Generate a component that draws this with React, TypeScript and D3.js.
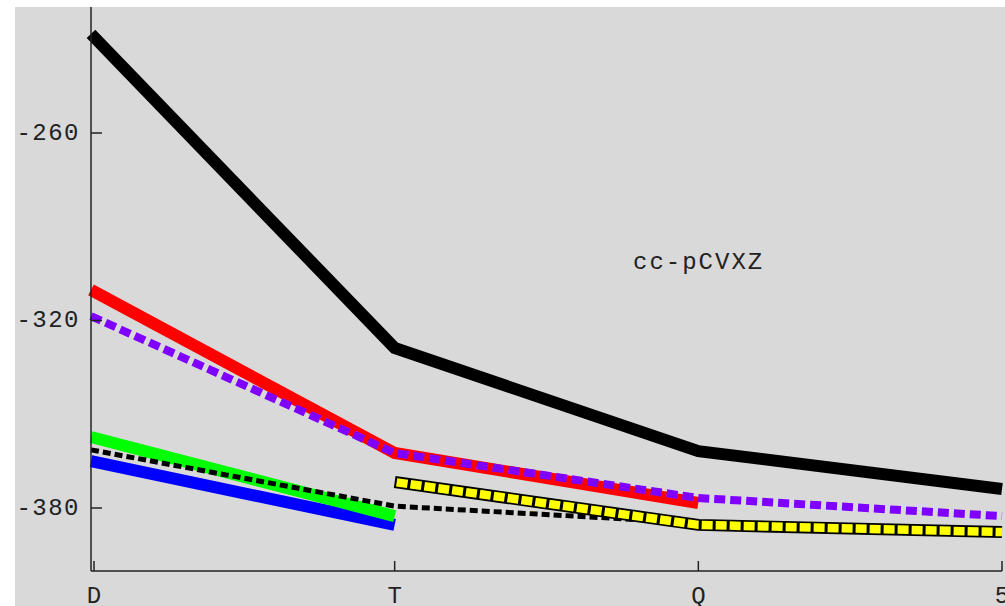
import * as d3 from "d3";

const categories = ["D", "T", "Q", "5"];
const yTicks = [-260, -320, -380];

// values per category, null = no point
const blackThick = [-228.3, -328.8, -361.8, -373.9];
const redLine = [-310.2, -362.4, -378.4, null];
const purpleDash = [-318.6, -362.4, -376.8, -382.6];
const greenLine = [-357.3, -382.6, null, null];
const blueLine = [-365.0, -385.4, null, null];
const blackDash = [-361.4, -379.4, -384.8, null];
const yellowLine = [null, -371.7, -385.4, -387.7];

const label = "cc-pCVXZ";

const W = 1005;
const H = 606;
const FONT = "'Courier New', 'Liberation Mono', monospace";

export default function App() {
  const x = d3
    .scalePoint<string>()
    .domain(categories)
    .range([91, 1002]);
  const y = d3.scaleLinear().domain([-260, -380]).range([133, 508]);

  const line = (vals: (number | null)[]) =>
    d3
      .line<number | null>()
      .defined((d) => d !== null)
      .x((_, i) => x(categories[i]) as number)
      .y((d) => y(d as number))(vals) || "";

  const axisColor = "#222";

  return (
    <svg
      width={W}
      height={H}
      style={{ position: "absolute", left: 0, top: 0, display: "block" }}
    >
      <rect x={0} y={0} width={W} height={H} fill="#fff" />
      <rect x={15} y={7} width={W - 15} height={H - 7} fill="#d9d9d9" />

      {/* series */}
      <g fill="none" strokeLinecap="butt" strokeLinejoin="miter">
        <path d={line(blueLine)} stroke="#0000ff" strokeWidth={12} />
        <path d={line(greenLine)} stroke="#00ff00" strokeWidth={12} />
        <path
          d={line(blackDash)}
          stroke="#000"
          strokeWidth={5}
          strokeDasharray="8,4"
        />
        <path d={line(redLine)} stroke="#ff0000" strokeWidth={12} />
        <path
          d={line(purpleDash)}
          stroke="#7f00ff"
          strokeWidth={8}
          strokeDasharray="11,5"
        />
        <path d={line(yellowLine)} stroke="#000" strokeWidth={12} />
        <path
          d={line(yellowLine)}
          stroke="#ffff00"
          strokeWidth={8.5}
          strokeDasharray="11,3"
          strokeDashoffset={-2}
        />
        <path d={line(blackThick)} stroke="#000" strokeWidth={12} />
      </g>

      {/* y axis */}
      <line x1={91} x2={91} y1={7} y2={571} stroke={axisColor} strokeWidth={1.5} />
      {yTicks.map((t) => (
        <g key={t}>
          <line x1={91} x2={102} y1={y(t)} y2={y(t)} stroke={axisColor} strokeWidth={1.5} />
          <text
            x={80}
            y={y(t)}
            textAnchor="end"
            dominantBaseline="central"
            fontFamily={FONT}
            fontSize={24}
            letterSpacing={1.5}
            fill="#222"
          >
            {String(t)}
          </text>
        </g>
      ))}

      {/* x axis */}
      <line x1={91} x2={1002} y1={571} y2={571} stroke={axisColor} strokeWidth={1.5} />
      {categories.map((c) => (
        <g key={c}>
          <line
            x1={(x(c) as number) + (c === "D" ? 3 : 0)}
            x2={(x(c) as number) + (c === "D" ? 3 : 0)}
            y1={561}
            y2={571}
            stroke={axisColor}
            strokeWidth={1.5}
          />
          <text
            x={(x(c) as number) + (c === "D" ? 3 : 0)}
            y={603}
            textAnchor="middle"
            fontFamily={FONT}
            fontSize={24}
            fill="#222"
          >
            {c}
          </text>
        </g>
      ))}

      <text
        x={633}
        y={262}
        dominantBaseline="central"
        fontFamily={FONT}
        fontSize={24}
        letterSpacing={2}
        fill="#222"
      >
        {label}
      </text>
    </svg>
  );
}
